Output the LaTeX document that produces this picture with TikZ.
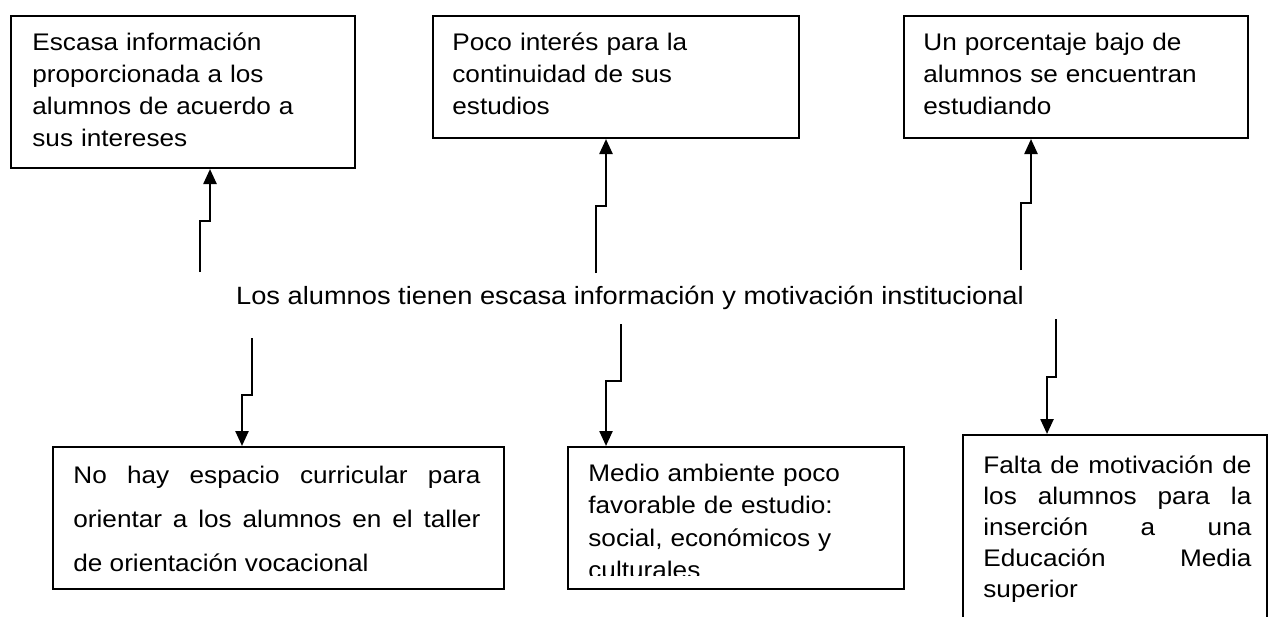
\documentclass[tikz,border=0pt]{standalone}
\usepackage{fontspec}
\setmainfont{Liberation Sans}[FakeStretch=1.09]
\usetikzlibrary{arrows.meta,positioning}

\begin{document}
\begin{tikzpicture}[x=0.5pt,y=-0.5pt,
  box/.style={draw,line width=1pt,anchor=north west,inner sep=0pt},
  txt/.style={inner sep=0pt,anchor=base west,align=left,font=\fontsize{12}{16}\selectfont},
  jtxt/.style={txt,align=justify},
  arr/.style={-{Triangle[width=6.5pt,length=7.5pt]},line width=1.2pt}]
\useasboundingbox (0,0) rectangle (1272,616);
\clip (0,0) rectangle (1272,616);
% causa central
\node[inner sep=0pt,font=\fontsize{12.5}{16}\selectfont] (prob) at (630,298)
  {Los alumnos tienen escasa información y motivación institucional};
% efectos (arriba)
\node[box,minimum width=172pt,minimum height=76pt] (b1) at (10,15) {};
\node[txt,text width=150pt] (t1) at (32,50)
  {Escasa información\\ proporcionada a los\\ alumnos de acuerdo a\\ sus intereses};
\node[box,minimum width=183pt,minimum height=61pt] (b2) at (432,15) {};
\node[txt,text width=170pt] (t2) at (452,50)
  {Poco interés para la\\ continuidad de sus\\ estudios};
\node[box,minimum width=172pt,minimum height=61pt] (b3) at (903,15) {};
\node[txt,text width=155pt] (t3) at (923,50)
  {Un porcentaje bajo de\\ alumnos se encuentran\\ estudiando};
% causas (abajo)
\node[box,minimum width=225.5pt,minimum height=71pt] (b4) at (52,446) {};
\node[jtxt,text width=203.5pt,font=\fontsize{12}{22}\selectfont] (t4) at (73,483)
  {\tolerance=10000\relax\hyphenpenalty=10000\relax
   No hay espacio curricular para\linebreak orientar a los alumnos en el taller\linebreak de orientación vocacional};
\node[box,minimum width=168pt,minimum height=71pt] (b5) at (567,446) {};
\begin{scope}
\clip (567,446) rectangle (903,575);
\node[txt,text width=155pt,font=\fontsize{12}{16.3}\selectfont] (t5) at (588,481)
  {Medio ambiente poco\\ favorable de estudio:\\ social, económicos y\\ culturales};
\end{scope}
\node[box,minimum width=152pt,minimum height=108pt] (b6) at (962,434) {};
\node[jtxt,text width=134pt,font=\fontsize{12}{15.6}\selectfont] (t6) at (983,473)
  {\tolerance=10000\relax\hyphenpenalty=10000\relax
   Falta de motivación de\linebreak los alumnos para la\linebreak inserción a una\linebreak Educación Media\linebreak superior};
% conectores
\coordinate (u1) at (200,272); \coordinate (j1) at (210,221);
\coordinate (u2) at (596,273); \coordinate (j2) at (606,206);
\coordinate (u3) at (1021,270); \coordinate (j3) at (1031,203);
\coordinate (d1) at (252,338); \coordinate (k1) at (242,395);
\coordinate (d2) at (621,324); \coordinate (k2) at (606,381);
\coordinate (d3) at (1056,319); \coordinate (k3) at (1047,377);
\draw[arr] (u1) |- (j1) -- (j1 |- b1.south);
\draw[arr] (u2) |- (j2) -- (j2 |- b2.south);
\draw[arr] (u3) |- (j3) -- (j3 |- b3.south);
\draw[arr] (d1) |- (k1) -- (k1 |- b4.north);
\draw[arr] (d2) |- (k2) -- (k2 |- b5.north);
\draw[arr] (d3) |- (k3) -- (k3 |- b6.north);
\end{tikzpicture}
\end{document}
